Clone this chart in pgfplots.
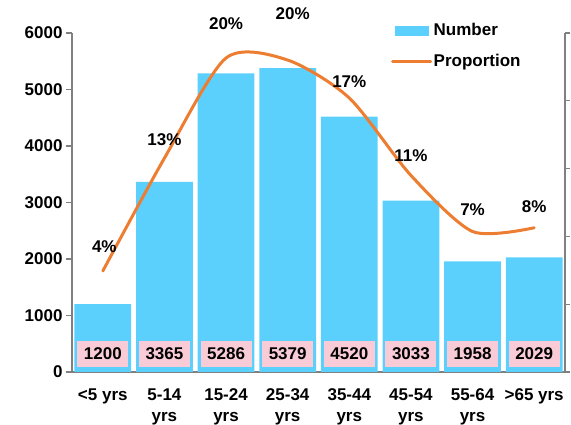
\documentclass[border=0pt]{standalone}
\usepackage{pgfplots}
\usepackage{pgfplotstable}
\pgfplotsset{compat=1.18}
\usepackage{fontspec}
\setmainfont{Liberation Sans}

\definecolor{barblue}{RGB}{92,208,252}
\definecolor{lineorange}{RGB}{237,125,49}
\definecolor{boxpink}{RGB}{248,203,214}
\definecolor{axisgray}{RGB}{128,128,128}

% age group, count, share of total, label offsets (pt)
\pgfplotstableread{
x n p off xoff
0 1200 0.0448 24 1.5
1 3365 0.1257 18 0
2 5286 0.1975 34 0
3 5379 0.1960 46 5
4 4520 0.1688 16 0
5 3033 0.1133 20 0
6 1958 0.0731 21.5 0
7 2029 0.0758 21 0
}\agedata

\newcommand{\chartfont}{\fontsize{17}{21}\selectfont\bfseries}

\begin{document}
\begin{tikzpicture}
\pgfplotsset{
  /pgf/number format/1000 sep={},
  /pgf/number format/assume math mode=true,
}
\begin{pgfinterruptboundingbox}
% counts on the left axis
\begin{axis}[
  scale only axis, width=493pt, height=339pt,
  xmin=-0.5, xmax=7.5, ymin=0, ymax=6000,
  axis lines*=left,
  axis line style={axisgray, line width=1.3pt},
  every tick/.style={axisgray, line width=1.1pt},
  tick align=outside,
  ytick={0,1000,...,6000},
  major tick length=6pt,
  xtick={0,...,7},
  x tick style={draw=none},
  xticklabels={{<5 yrs},{5-14\\yrs},{15-24\\yrs},{25-34\\yrs},{35-44\\yrs},{45-54\\yrs},{55-64\\yrs},{>65 yrs}},
  xticklabel style={align=center, font=\chartfont, yshift=-7pt},
  yticklabel style={font=\chartfont},
  clip=false,
]
\addplot[ybar, bar width=0.92, fill=barblue, draw=none,
  visualization depends on={\thisrow{n} \as \nval},
  nodes near coords={\pgfmathprintnumber{\pgfplotspointmeta}},
  point meta=explicit,
  nodes near coords align={center},
  every node near coord/.append style={
    anchor=center, fill=boxpink, text=black, font=\chartfont,
    minimum width=51pt, minimum height=26pt, inner sep=0pt,
    yshift={(318-\nval)*0.0565}},
] table[x=x, y=n, meta=n] {\agedata};
\end{axis}

% proportions on the right axis
\begin{axis}[
  scale only axis, width=493pt, height=339pt,
  xmin=-0.5, xmax=7.5, ymin=-0.0276, ymax=0.2154,
  axis x line=none,
  axis y line*=right,
  axis line style={axisgray, line width=1.3pt},
  every tick/.style={axisgray, line width=1.1pt},
  tick align=outside,
  major tick length=5pt,
  ytick={-0.0276,0.0210,0.0696,0.1182,0.1668,0.2154},
  yticklabels={},
  clip=false,
  legend style={draw=none, fill=none, at={(0.647,1.035)}, anchor=north west,
    font=\chartfont, row sep=13pt, inner sep=0pt,
    nodes={inner xsep=1.5pt}},
  legend cell align=left,
]
\addlegendimage{legend image code/.code={\fill[barblue] (0pt,-4.5pt) rectangle (33pt,4.5pt);}}
\addlegendentry{Number}
\addplot[lineorange, line width=3pt, line cap=round, smooth, tension=0.45, mark=none,
  legend image code/.code={\draw[lineorange, line width=3pt] (-3pt,0pt) -- (35pt,0pt);},
  visualization depends on={\thisrow{off} \as \loff},
  visualization depends on={\thisrow{xoff} \as \lxoff},
  point meta={\thisrow{p}*100},
  nodes near coords={\pgfmathprintnumber[fixed,precision=0]{\pgfplotspointmeta}\%},
  nodes near coords align={center},
  every node near coord/.append style={anchor=center, text=black, font=\chartfont,
    inner sep=0pt, yshift=\loff, xshift=\lxoff},
] table[x=x, y=p] {\agedata};
\addlegendentry{Proportion}
\end{axis}
\end{pgfinterruptboundingbox}
\path[use as bounding box] (-72pt,-53pt) rectangle (499pt,372pt);
\end{tikzpicture}
\end{document}
